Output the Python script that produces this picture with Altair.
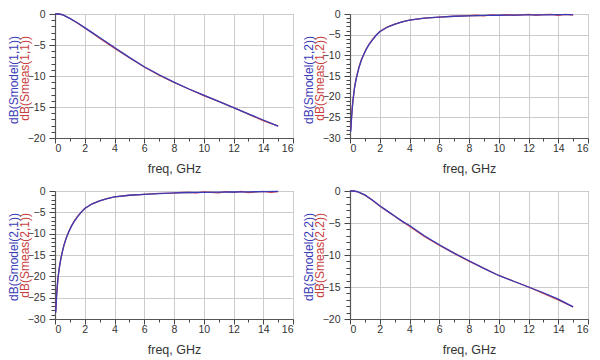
import altair as alt
import pandas as pd

# ---------------- data ----------------
FREQ_REFL = [0, 0.25, 0.5, 1, 1.5, 2, 2.5, 3, 3.5, 4, 5, 6, 7, 8, 9, 10, 11, 12, 13, 14, 15]
S11_MODEL = [0, 0, -0.1, -0.7, -1.4, -2.2, -3.0, -3.8, -4.6, -5.4, -7.0, -8.5, -9.8, -11.0,
             -12.1, -13.1, -14.1, -15.1, -16.1, -17.1, -18.1]
S11_MEAS = [0, 0, -0.12, -0.72, -1.45, -2.25, -3.05, -3.9, -4.7, -5.5, -7.05, -8.55, -9.85,
            -11.05, -12.1, -13.15, -14.1, -15.1, -16.15, -17.2, -18.1]
S22_MODEL = [0, 0, -0.1, -0.6, -1.4, -2.3, -3.1, -3.9, -4.7, -5.4, -7.0, -8.4, -9.7, -10.9,
             -12.1, -13.2, -14.1, -15.0, -15.9, -16.9, -18.1]
S22_MEAS = [0, 0, -0.12, -0.65, -1.45, -2.35, -3.15, -3.95, -4.75, -5.5, -7.1, -8.45, -9.75,
            -10.95, -12.1, -13.2, -14.1, -15.0, -16.0, -17.0, -18.1]

FREQ_TRANS = [0.05, 0.1, 0.15, 0.2, 0.3, 0.4, 0.5, 0.6, 0.75, 0.9, 1.1, 1.3, 1.5, 1.75, 2,
              2.5, 3, 3.5, 4, 5, 6, 7, 8, 9, 10, 11, 12, 13, 14, 15]
S12_MODEL = [-28.5, -25.5, -23.0, -21.0, -18.0, -16.0, -14.5, -13.0, -11.3, -10.0, -8.5, -7.3,
             -6.3, -5.2, -4.3, -3.2, -2.5, -1.9, -1.5, -1.0, -0.75, -0.55, -0.45, -0.35, -0.3,
             -0.25, -0.2, -0.2, -0.15, -0.15]
S21_MODEL = [-28.5, -25.0, -22.5, -20.5, -17.8, -15.8, -14.2, -12.8, -11.1, -9.8, -8.3, -7.1,
             -6.1, -5.0, -4.1, -3.0, -2.3, -1.8, -1.4, -1.0, -0.8, -0.6, -0.45, -0.35, -0.3,
             -0.25, -0.23, -0.2, -0.15, -0.1]

FREQ_TRANS_MEAS = [0.05, 0.1, 0.15, 0.2, 0.3, 0.4, 0.5, 0.6, 0.75, 0.9, 1.1, 1.3, 1.5, 1.75, 2,
                   2.5, 3, 3.5, 4, 5, 6, 7, 8, 8.5, 9, 9.5, 10, 10.5, 11, 11.5, 12, 12.5, 13,
                   13.5, 14, 14.5, 15]
S12_MEAS = [-28.0, -25.0, -22.6, -20.8, -17.8, -15.8, -14.3, -12.9, -11.2, -9.9, -8.4, -7.2,
            -6.2, -5.1, -4.25, -3.15, -2.45, -1.9, -1.5, -1.0, -0.75, -0.55, -0.4, -0.3, -0.45,
            -0.2, -0.35, -0.15, -0.3, -0.2, -0.1, -0.35, -0.15, -0.1, -0.3, -0.1, -0.25]
S21_MEAS = [-28.2, -24.8, -22.4, -20.4, -17.7, -15.7, -14.1, -12.7, -11.0, -9.7, -8.2, -7.0,
            -6.0, -5.0, -4.1, -3.0, -2.3, -1.8, -1.4, -1.0, -0.8, -0.55, -0.5, -0.35, -0.3,
            -0.45, -0.2, -0.3, -0.45, -0.15, -0.3, -0.1, -0.4, -0.2, -0.1, -0.3, -0.15]

# ---------------- styling ----------------
BLUE = "#3b3bb8"
RED = "#c84040"
FONT = "Liberation Sans"
W = 238
H_TOP, H_BOTTOM = 124, 128


def panel(f_model, model, f_meas, meas, ymin, model_title, meas_title, h):
    rows = [{"f": f, "v": v, "s": "meas"} for f, v in zip(f_meas, meas)]
    rows += [{"f": f, "v": v, "s": "model"} for f, v in zip(f_model, model)]
    df = pd.DataFrame(rows)

    xaxis = alt.Axis(
        values=list(range(0, 17)),
        labelExpr="datum.value % 2 === 0 ? datum.label : ''",
        gridOpacity={"condition": {"test": "datum.value % 2 === 0", "value": 1}, "value": 0},
        tickSize={"condition": {"test": "datum.value % 2 === 0", "value": 5}, "value": 3},
        title="freq, GHz",
        titleFontWeight="normal",
        titlePadding=9,
        labelPadding=0,
    )
    yaxis = alt.Axis(
        values=list(range(ymin, 1)),
        labelExpr="datum.value % 5 === 0 ? datum.label : ''",
        gridOpacity={"condition": {"test": "datum.value % 5 === 0", "value": 1}, "value": 0},
        tickSize={"condition": {"test": "datum.value % 5 === 0", "value": 6}, "value": 4},
        labelPadding=4,
        title=None,
    )
    lines = alt.Chart(df).mark_line(strokeWidth=1.3, clip=False).encode(
        x=alt.X("f:Q", scale=alt.Scale(domain=[0, 16], nice=False, zero=False), axis=xaxis),
        y=alt.Y("v:Q", scale=alt.Scale(domain=[ymin, 0], nice=False, zero=False), axis=yaxis),
        color=alt.Color("s:N", scale=alt.Scale(domain=["meas", "model"], range=[RED, BLUE]),
                        legend=None),
    )
    t1 = alt.Chart(pd.DataFrame({"t": [model_title]})).mark_text(
        angle=270, align="right", baseline="middle", fontSize=12, font=FONT, color=BLUE
    ).encode(text="t:N", x=alt.value(-41), y=alt.value(22))
    t2 = alt.Chart(pd.DataFrame({"t": [meas_title]})).mark_text(
        angle=270, align="right", baseline="middle", fontSize=12, font=FONT, color=RED
    ).encode(text="t:N", x=alt.value(-30), y=alt.value(22))
    return alt.layer(lines, t1, t2).properties(width=W, height=h)


p1 = panel(FREQ_REFL, S11_MODEL, FREQ_REFL, S11_MEAS, -20,
           "dB(Smodel(1,1))", "dB(Smeas(1,1))", H_TOP)
p2 = panel(FREQ_TRANS, S12_MODEL, FREQ_TRANS_MEAS, S12_MEAS, -30,
           "dB(Smodel(1,2))", "dB(Smeas(1,2))", H_TOP)
p3 = panel(FREQ_TRANS, S21_MODEL, FREQ_TRANS_MEAS, S21_MEAS, -30,
           "dB(Smodel(2,1))", "dB(Smeas(2,1))", H_BOTTOM)
p4 = panel(FREQ_REFL, S22_MODEL, FREQ_REFL, S22_MEAS, -20,
           "dB(Smodel(2,2))", "dB(Smeas(2,2))", H_BOTTOM)

chart = alt.vconcat(
    alt.hconcat(p1, p2, spacing=8),
    alt.hconcat(p3, p4, spacing=8),
    spacing=9,
).properties(
    padding={"top": 0, "left": -1, "right": 0, "bottom": 0},
    background="white",
).configure_view(
    stroke="#808080", strokeWidth=1
).configure_axis(
    labelFont=FONT, labelFontSize=10.5, labelColor="#333333",
    titleFont=FONT, titleFontSize=12.5, titleFontWeight="normal", titleColor="#333333",
    domainColor="#555555", domainWidth=1.2, tickColor="#444444",
    gridColor="#cccccc", gridWidth=1,
)

chart.save("out.html", embed_options={"renderer": "svg", "actions": False})
